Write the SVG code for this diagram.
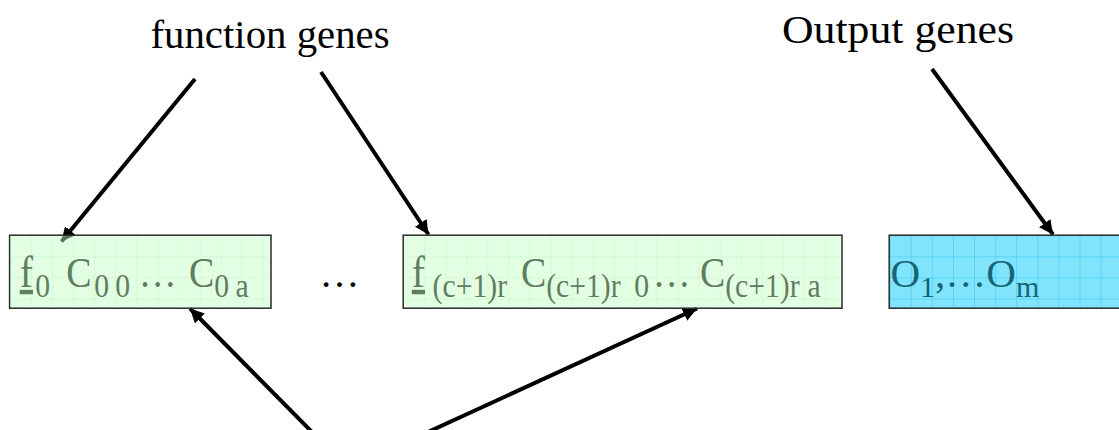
<svg xmlns="http://www.w3.org/2000/svg" width="1119" height="430" viewBox="0 0 1119 430">
  <style>
    .title { font-family: "Liberation Serif", "Times New Roman", serif; font-size: 40px; fill: #000; }
    .gtxt { font-family: "Liberation Serif", "Times New Roman", serif; fill: #5f7d5f; }
    .ctxt { font-family: "Liberation Serif", "Times New Roman", serif; fill: #166477; }
    .big { font-size: 42px; }
    .fbig { font-size: 44px; }
    .sub { font-size: 33px; }
    .conn { stroke: #000; stroke-width: 4; fill: none; }
    .gbox { fill: #c0ffc0; fill-opacity: 0.45; stroke: #2a2a2a; stroke-width: 1.5; }
    .cbox { fill: #80e4fc; stroke: #2a2a2a; stroke-width: 1.5; }
  </style>
  <defs>
    <marker id="ah" markerUnits="userSpaceOnUse" markerWidth="16" markerHeight="14" refX="14" refY="7" orient="auto">
      <path d="M0,0 L14,7 L0,14 Z" fill="#000"/>
    </marker>
    <pattern id="g1" patternUnits="userSpaceOnUse" x="10.6" y="236.2" width="21.1" height="21.1">
      <path d="M21.1,0 V21.1 M0,21.1 H21.1" stroke="#c4f3c4" stroke-width="1" fill="none"/>
    </pattern>
    <pattern id="g2" patternUnits="userSpaceOnUse" x="404" y="236.2" width="21.1" height="21.1">
      <path d="M21.1,0 V21.1 M0,21.1 H21.1" stroke="#c4f3c4" stroke-width="1" fill="none"/>
    </pattern>
    <pattern id="g3" patternUnits="userSpaceOnUse" x="890.6" y="236.2" width="21.1" height="21.1">
      <path d="M21.1,0 V21.1 M0,21.1 H21.1" stroke="#34c6ee" stroke-width="1" fill="none"/>
    </pattern>
  </defs>

  <g id="label-function">
    <text class="title" x="150.5" y="48" textLength="239" lengthAdjust="spacingAndGlyphs">function genes</text>
  </g>
  <g id="label-output">
    <text class="title" x="782" y="42.7" textLength="232" lengthAdjust="spacingAndGlyphs">Output genes</text>
  </g>

  <g id="connectors">
    <line class="conn" x1="195" y1="79" x2="61.5" y2="241.5" marker-end="url(#ah)"/>
    <line class="conn" x1="321" y1="72" x2="428.5" y2="234.5" marker-end="url(#ah)"/>
    <line class="conn" x1="932" y1="69" x2="1053" y2="234.5" marker-end="url(#ah)"/>
    <line class="conn" x1="312" y1="432" x2="190" y2="308.5" marker-end="url(#ah)"/>
    <line class="conn" x1="428" y1="432" x2="697" y2="308.5" marker-end="url(#ah)"/>
  </g>

  <g id="node-first">
    <rect class="gbox" x="9.6" y="235.2" width="261.4" height="73"/>
    <rect x="10.4" y="236" width="259.8" height="71.4" fill="url(#g1)"/>
    <text class="gtxt" transform="scale(0.9,1)">
      <tspan class="fbig" x="22" y="286.7" text-decoration="underline">f</tspan>
      <tspan class="sub" x="39.22" y="297.3">0</tspan>
      <tspan class="big" x="73.56" y="286.7">C</tspan>
      <tspan class="sub" x="104.78" y="297.3">0</tspan>
      <tspan class="sub" x="128.11" y="297.3">0</tspan>
      <tspan class="big" x="154.22" y="286.7">…</tspan>
      <tspan class="big" x="210" y="286.7">C</tspan>
      <tspan class="sub" x="238" y="297.3">0</tspan>
      <tspan class="sub" x="261.56" y="297.3">a</tspan>
    </text>
  </g>

  <g id="ellipsis-middle">
    <text x="319.6" y="286.7" font-family="Liberation Serif, Times New Roman, serif" font-size="40" fill="#000">…</text>
  </g>

  <g id="node-last">
    <rect class="gbox" x="403.2" y="235.2" width="438.8" height="73"/>
    <rect x="404" y="236" width="437.2" height="71.4" fill="url(#g2)"/>
    <text class="gtxt" transform="scale(0.9,1)">
      <tspan class="fbig" x="457.56" y="286.7" text-decoration="underline">f</tspan>
      <tspan class="sub" x="480.67" y="297.3">(c+1)r</tspan>
      <tspan class="big" x="578.89" y="286.7">C</tspan>
      <tspan class="sub" x="606.89" y="297.3">(c+1)r</tspan>
      <tspan class="sub" x="704.78" y="297.3">0</tspan>
      <tspan class="big" x="725.33" y="286.7">…</tspan>
      <tspan class="big" x="777.78" y="286.7">C</tspan>
      <tspan class="sub" x="805.78" y="297.3">(c+1)r</tspan>
      <tspan class="sub" x="897.11" y="297.3">a</tspan>
    </text>
  </g>

  <g id="node-output">
    <rect class="cbox" x="889.2" y="235.2" width="240" height="73"/>
    <rect x="890" y="236" width="240" height="71.4" fill="url(#g3)"/>
    <text class="ctxt" x="890.5" y="286.7"><tspan font-size="41">O</tspan><tspan font-size="30" dy="10.6">1</tspan><tspan font-size="41" dy="-10.6">,…O</tspan><tspan font-size="30" dy="10.6">m</tspan></text>
  </g>
</svg>
